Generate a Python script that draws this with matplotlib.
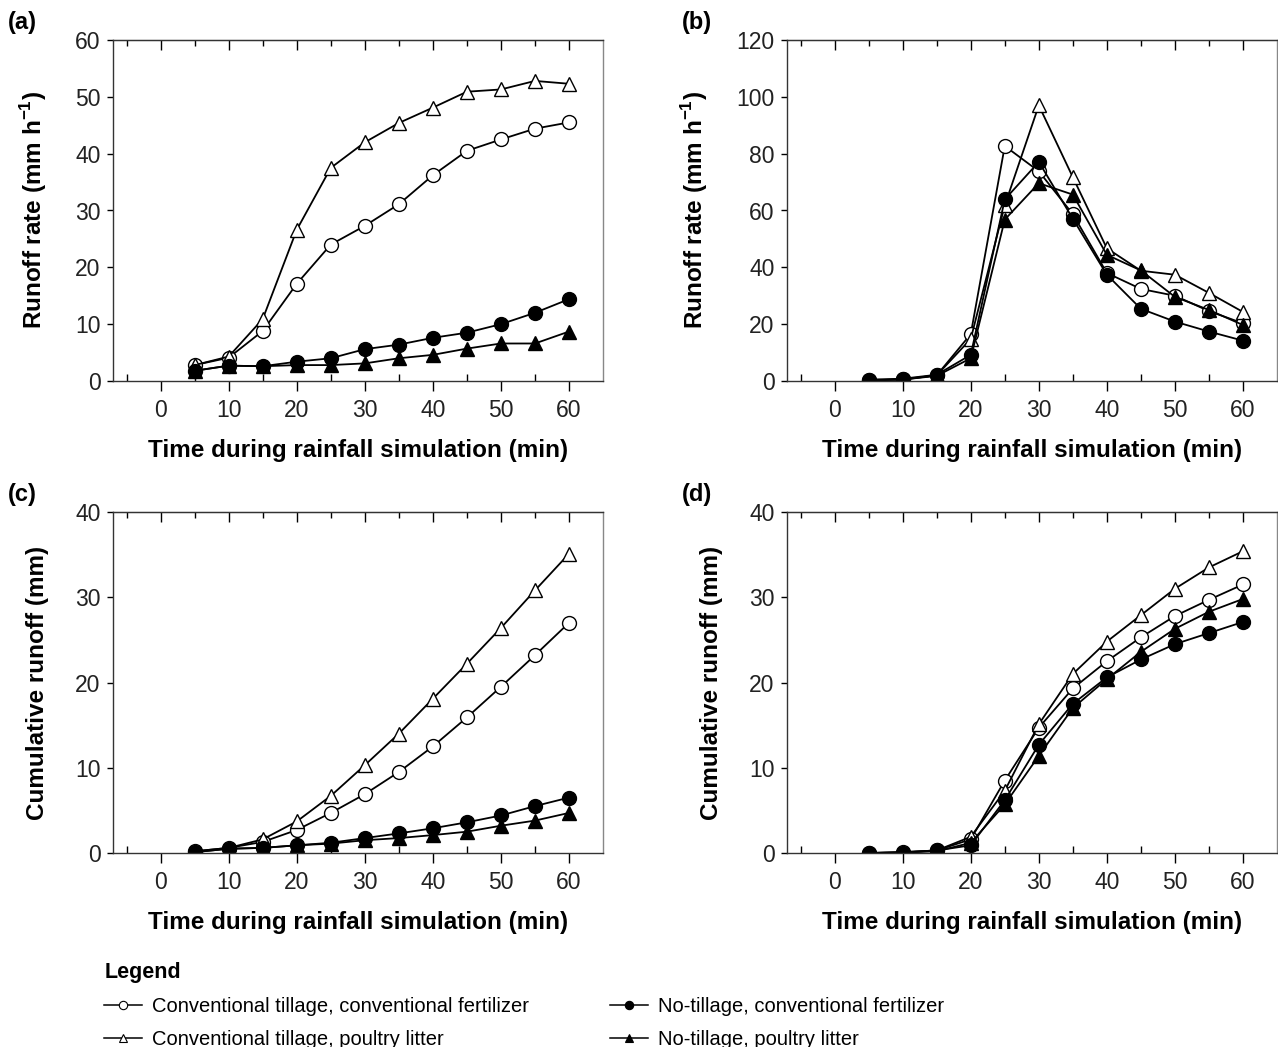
import numpy as np
import matplotlib
matplotlib.use("Agg")
import matplotlib.pyplot as plt
from matplotlib.lines import Line2D

plt.rcParams['font.family'] = ['Liberation Sans', 'DejaVu Sans']
plt.rcParams['mathtext.fontset'] = 'custom'
plt.rcParams['mathtext.rm'] = 'Liberation Sans'
plt.rcParams['mathtext.bf'] = 'Liberation Sans:bold'

time = [5, 10, 15, 20, 25, 30, 35, 40, 45, 50, 55, 60]

series_names = ["Conventional tillage, conventional fertilizer",
                "Conventional tillage, poultry litter",
                "No-tillage, conventional fertilizer",
                "No-tillage, poultry litter"]

# (a) runoff rate, mm/h
rate_a_ct_cf = [2.8, 4.1, 8.8, 17.1, 24.0, 27.3, 31.1, 36.2, 40.5, 42.5, 44.4, 45.5]
rate_a_ct_pl = [2.8, 4.3, 10.9, 26.6, 37.5, 42.0, 45.4, 48.1, 50.9, 51.3, 52.8, 52.3]
rate_a_nt_cf = [1.8, 2.7, 2.6, 3.4, 4.0, 5.6, 6.4, 7.6, 8.5, 10.0, 12.0, 14.4]
rate_a_nt_pl = [1.8, 2.7, 2.6, 2.8, 2.8, 3.1, 4.0, 4.6, 5.7, 6.6, 6.6, 8.7]

# (b) runoff rate, mm/h
rate_b_ct_cf = [0.2, 0.6, 2.0, 16.5, 82.7, 73.8, 58.7, 38.0, 32.4, 30.0, 24.6, 20.3]
rate_b_ct_pl = [0.2, 0.5, 2.0, 14.8, 61.8, 97.0, 71.7, 46.7, 38.8, 37.4, 31.0, 24.3]
rate_b_nt_cf = [0.5, 0.8, 2.2, 9.2, 63.9, 77.1, 57.1, 37.4, 25.4, 20.9, 17.4, 14.2]
rate_b_nt_pl = [0.3, 0.5, 1.8, 8.0, 56.8, 69.6, 65.6, 44.4, 38.9, 29.6, 25.0, 19.7]

# (c) cumulative runoff, mm
cum_c_ct_cf = [0.2, 0.6, 1.3, 2.7, 4.7, 6.9, 9.5, 12.5, 15.9, 19.5, 23.2, 27.0]
cum_c_ct_pl = [0.2, 0.6, 1.6, 3.7, 6.7, 10.3, 14.0, 18.1, 22.2, 26.4, 30.8, 35.1]
cum_c_nt_cf = [0.1, 0.5, 0.6, 0.9, 1.2, 1.75, 2.3, 2.9, 3.6, 4.4, 5.5, 6.5]
cum_c_nt_pl = [0.1, 0.5, 0.6, 0.9, 1.1, 1.5, 1.75, 2.1, 2.5, 3.2, 3.8, 4.7]

# (d) cumulative runoff, mm
cum_d_ct_cf = [0.0, 0.1, 0.3, 1.6, 8.5, 14.7, 19.3, 22.5, 25.3, 27.8, 29.7, 31.5]
cum_d_ct_pl = [0.0, 0.1, 0.3, 1.9, 7.3, 15.1, 21.0, 24.8, 27.9, 31.0, 33.5, 35.4]
cum_d_nt_cf = [0.0, 0.05, 0.3, 0.9, 6.2, 12.7, 17.5, 20.6, 22.7, 24.5, 25.8, 27.1]
cum_d_nt_pl = [0.0, 0.05, 0.2, 1.2, 5.7, 11.4, 17.0, 20.4, 23.6, 26.3, 28.3, 29.8]

panels = [
    ("(a)", [rate_a_ct_cf, rate_a_ct_pl, rate_a_nt_cf, rate_a_nt_pl], 60, 10,
     "Runoff rate (mm h$^{\\mathbf{-1}}$)"),
    ("(b)", [rate_b_ct_cf, rate_b_ct_pl, rate_b_nt_cf, rate_b_nt_pl], 120, 20,
     "Runoff rate (mm h$^{\\mathbf{-1}}$)"),
    ("(c)", [cum_c_ct_cf, cum_c_ct_pl, cum_c_nt_cf, cum_c_nt_pl], 40, 10,
     "Cumulative runoff (mm)"),
    ("(d)", [cum_d_ct_cf, cum_d_ct_pl, cum_d_nt_cf, cum_d_nt_pl], 40, 10,
     "Cumulative runoff (mm)"),
]

# marker style per series: open circle, open triangle, filled circle, filled triangle
styles = [dict(marker='o', mfc='white'), dict(marker='^', mfc='white'),
          dict(marker='o', mfc='black'), dict(marker='^', mfc='black')]

fig = plt.figure(figsize=(12.78, 10.47), dpi=100)

# axes boxes in figure pixels: left, top
boxes = [(113, 40), (787, 40), (113, 512), (787, 512)]
W, H = 1278, 1047
aw, ah = 490, 341

for (letter, data, ymax, ystep, ylab), (lx, ty) in zip(panels, boxes):
    ax = fig.add_axes([lx / W, 1 - (ty + ah) / H, aw / W, ah / H])
    for vals, st in zip(data, styles):
        ax.plot(time, vals, color='black', lw=1.3, ms=10, mec='black', mew=1.0, **st)
    ax.set_xlim(-7, 65)
    ax.set_ylim(0, ymax)
    ax.set_xticks(np.arange(0, 61, 10))
    ax.set_xticks(np.arange(-5, 61, 10), minor=True)
    ax.set_yticks(np.arange(0, ymax + 1, ystep))
    ax.tick_params(axis='x', which='major', direction='out', length=7, width=1,
                   labelsize=16.5, pad=6, labelcolor='#222222')
    ax.tick_params(axis='x', which='minor', direction='in', length=5, width=1)
    ax.tick_params(axis='y', direction='out', length=4, width=1, labelsize=16.5, pad=5,
                   labelcolor='#222222')
    for sp in ax.spines.values():
        sp.set_linewidth(1.0)
        sp.set_color('#333333')
    ax.spines['right'].set_color('#888888')
    top = ax.secondary_xaxis('top')
    top.set_xticks(np.arange(0, 61, 10))
    top.set_xticks(np.arange(-5, 61, 10), minor=True)
    top.tick_params(which='major', direction='in', length=7, width=1, labeltop=False)
    top.tick_params(which='minor', direction='in', length=4, width=1)
    top.spines['top'].set_color('#333333')
    ax.set_xlabel("Time during rainfall simulation (min)", fontsize=17.5,
                  fontweight='bold', labelpad=12)
    ax.set_ylabel(ylab, fontsize=17.5, fontweight='bold', labelpad=19)
    fig.text((lx - 105) / W, 1 - 22 / H - (ty - 40) / H, letter, fontsize=17,
             fontweight='bold', va='center', ha='left')

handles = [Line2D([], [], color='black', lw=1.1, ms=6, mec='black', mew=0.8, **st)
           for st in styles]
leg = fig.legend(handles, series_names, loc='upper left', bbox_to_anchor=(86 / W, 1 - 944 / H),
                 ncol=2, frameon=False, fontsize=14.5, handlelength=1.9,
                 columnspacing=4.0, labelspacing=0.7, handletextpad=0.5,
                 title="Legend", title_fontproperties={'weight': 'bold', 'size': 15.5},
                 alignment='left')

fig.savefig("out.png", dpi=100)
